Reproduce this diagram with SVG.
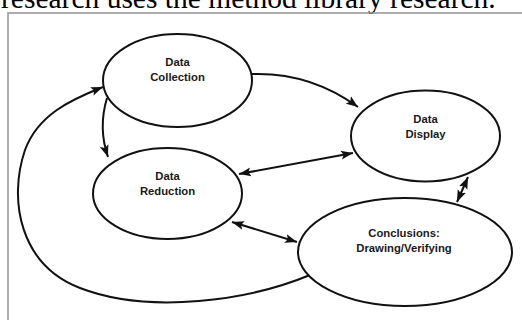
<svg xmlns="http://www.w3.org/2000/svg" width="522" height="320" viewBox="0 0 522 320">
  <style>
    .node ellipse { fill: #fff; stroke: #111; stroke-width: 2; }
    .node text { font-family: "Liberation Sans", Arial, sans-serif; font-weight: bold; font-size: 11.3px; fill: #1a1a1a; text-anchor: middle; }
    .conn path { fill: none; stroke: #111; stroke-width: 2; }
    .head { font-family: "Liberation Serif", "Times New Roman", serif; font-size: 29.5px; fill: #000; }
  </style>
  <defs>
    <marker id="arr" markerUnits="userSpaceOnUse" markerWidth="13" markerHeight="10" refX="12" refY="5" orient="auto-start-reverse" viewBox="0 0 13 10">
      <path d="M0,0.5 L12,5 L0,9.5 L2.5,5 Z" fill="#111"/>
    </marker>
  </defs>
  <rect width="522" height="320" fill="#fff"/>
  <text class="head" x="1" y="8">research uses the method library research.</text>
  <rect x="8" y="13" width="530" height="330" fill="none" stroke="#999" stroke-width="1.6"/>

  <g id="connectors" class="conn">
    <path d="M252,74 Q310,72 358,107" marker-end="url(#arr)"/>
    <path d="M107,98 Q98,128 108,157" marker-end="url(#arr)"/>
    <path d="M310,275 C250,300 150,315 80,288 C20,265 8,200 25,150 C38,115 70,100 103,87" marker-end="url(#arr)"/>
    <path d="M239,174 L353,153" marker-start="url(#arr)" marker-end="url(#arr)"/>
    <path d="M232,222 L297,242" marker-start="url(#arr)" marker-end="url(#arr)"/>
    <path d="M457,202 L468,177" marker-start="url(#arr)" marker-end="url(#arr)"/>
  </g>

  <g id="data-collection" class="node">
    <ellipse cx="177.5" cy="80.5" rx="74.5" ry="46.5"/>
    <text x="177.5" y="66">Data</text>
    <text x="177.5" y="80.5">Collection</text>
  </g>
  <g id="data-display" class="node">
    <ellipse cx="425.5" cy="136" rx="74.5" ry="45.5"/>
    <text x="425.5" y="123">Data</text>
    <text x="425.5" y="137.5">Display</text>
  </g>
  <g id="data-reduction" class="node">
    <ellipse cx="167.5" cy="193.5" rx="74.5" ry="45.5"/>
    <text x="167.5" y="180">Data</text>
    <text x="167.5" y="195">Reduction</text>
  </g>
  <g id="conclusions" class="node">
    <ellipse cx="405" cy="252" rx="107" ry="54"/>
    <text x="404" y="236.5">Conclusions:</text>
    <text x="404" y="251.5">Drawing/Verifying</text>
  </g>
</svg>
